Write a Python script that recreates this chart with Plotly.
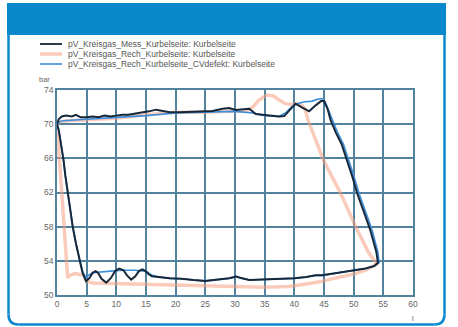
import plotly.graph_objects as go

# ---------------- data ----------------
mess_x = [0, 0.3, 0.8, 1.5, 2.5, 3.2, 4, 5, 6, 7, 8, 9, 10, 11, 12, 13, 14, 15, 15.5, 16.7, 18, 19, 20.6,
          22, 23.9, 26.2, 27.9, 29.0, 30.1, 31, 32.4, 33.5, 35.2, 37.4, 38.3, 39.1, 40.2, 41.2, 42.5, 43.6,
          44.5, 45, 45.6, 46.1, 47, 48, 48.9, 49.8, 50.6, 51.5, 52.2, 52.8, 53.4, 53.8, 54.1,
          53.5, 52, 50, 48, 46, 44.7, 43.6, 42, 40, 38, 36, 34, 32.4, 31, 30.2, 29, 27, 25, 23, 21, 19,
          17.2, 16, 15.5, 14.9, 14.4, 13.8, 13.2, 12.5, 11.8, 11.2, 10.5, 9.8, 9.1, 8.3, 7.5, 6.9, 6.5,
          6.0, 5.5, 4.9, 4.3, 3.8, 3.2, 2.65, 2.2, 1.8, 1.4, 1.1, 0.7, 0.3, 0]
mess_y = [70.0, 70.6, 70.9, 71.0, 70.9, 71.1, 70.8, 70.8, 70.9, 70.8, 71.0, 70.9, 71.0, 71.1, 71.1, 71.2,
          71.3, 71.4, 71.5, 71.7, 71.5, 71.4, 71.4, 71.45, 71.46, 71.55, 71.8, 71.9, 71.65, 71.7, 71.8,
          71.2, 71.05, 70.9, 70.95, 71.6, 72.4, 72.0, 71.5, 72.2, 72.7, 72.7, 71.8, 70.5, 69.0, 67.6,
          65.8, 63.8, 61.9, 60.0, 58.8, 57.6, 56.2, 55.1, 53.8,
          53.4, 53.1, 52.9, 52.7, 52.5, 52.3, 52.3, 52.1, 51.95, 51.9, 51.9, 51.85, 51.75, 52.0, 52.15,
          51.95, 51.8, 51.65, 51.75, 51.9, 51.95, 52.1, 52.2, 52.4, 52.8, 53.0, 52.8, 52.2, 51.8, 52.3,
          52.9, 53.1, 52.8, 52.0, 51.45, 51.9, 52.6, 52.8, 52.6, 52.0, 51.6, 52.6, 54.1, 56.0, 58.0,
          60.0, 61.9, 64.0, 65.8, 67.8, 69.3, 70.0]

rech_x = [0, 0.5, 2, 5, 10, 15, 20, 25, 30, 32, 33, 34, 35.3, 36.5, 37.5, 38.5, 39.5, 40.5, 41.3, 41.8,
          42.3, 44.9, 47.8, 48.3, 50.6, 52.5, 53.9,
          52, 50.3, 47, 44.7, 42, 39, 35, 30, 25, 20, 15, 10, 6, 5, 4.5, 3, 2.1, 1.8,
          1.6, 1.2, 0.8, 0.45, 0.15, 0]
rech_y = [70.0, 70.3, 70.4, 70.5, 70.7, 71.1, 71.4, 71.4, 71.5, 71.6, 72.0, 72.8, 73.4, 73.3, 72.8, 72.4,
          72.3, 72.4, 72.2, 71.8, 70.5, 65.8, 61.9, 61.1, 57.6, 55.0, 53.6,
          52.9, 52.5, 52.0, 51.6, 51.3, 51.0, 50.9, 51.0, 51.1, 51.2, 51.2, 51.3, 51.4, 51.6, 52.3, 52.5,
          52.3, 52.0, 54.0, 58.0, 62.0, 66.0, 69.0, 70.0]

cv_x = [0, 0.5, 1, 3, 5, 10, 15, 20, 25, 30, 33, 35, 37.4, 38.5, 39.5, 40.5, 41.5, 43, 43.8, 44.6, 45.2,
        45.8, 46.4, 47.3, 48.3, 49.2, 50.1, 50.9, 51.8, 52.5, 53.1, 53.7, 54.05, 54.3,
        53.5, 52, 50, 48, 46, 44.7, 43.6, 42, 40, 38, 36, 34, 32.4, 31, 30.2, 29, 27, 25, 23, 21, 19,
        17.2, 16, 15, 13, 11, 9, 7, 6, 5.3, 4.9, 4.3, 3.8, 3.2, 2.65, 2.2, 1.8, 1.4, 1.1, 0.7, 0.3, 0]
cv_y = [70.0, 70.3, 70.4, 70.5, 70.6, 70.8, 71.0, 71.3, 71.4, 71.5, 71.3, 71.0, 70.9, 71.3, 72.0, 72.4,
        72.6, 72.7, 72.9, 73.0, 72.6, 71.6, 70.4, 69.0, 67.6, 65.8, 63.8, 61.9, 60.0, 58.8, 57.6, 56.2,
        55.1, 53.8,
        53.4, 53.1, 52.9, 52.7, 52.5, 52.3, 52.3, 52.1, 51.95, 51.9, 51.9, 51.85, 51.75, 52.0, 52.15,
        51.95, 51.8, 51.65, 51.75, 51.9, 51.95, 52.1, 52.3, 52.8, 52.9, 52.9, 52.8, 52.7, 52.6, 52.3,
        52.0, 52.8, 54.1, 56.0, 58.0, 60.0, 61.9, 64.0, 65.8, 67.8, 69.3, 70.0]

legend_names = ["pV_Kreisgas_Mess_Kurbelseite: Kurbelseite",
                "pV_Kreisgas_Rech_Kurbelseite: Kurbelseite",
                "pV_Kreisgas_Rech_Kurbelseite_CVdefekt: Kurbelseite"]
x_ticks = [0, 5, 10, 15, 20, 25, 30, 35, 40, 45, 50, 55, 60]
y_ticks = [50, 54, 58, 62, 66, 70, 74]

# ---------------- styling ----------------
W, H = 458, 327
ML, MR, MT, MB = 57, 45, 90, 32
PW, PH = W - ML - MR, H - MT - MB
BLUE = "#0a88cc"
GRID = "#52829e"
C_MESS = "#16283a"
C_RECH = "rgba(245,160,130,0.55)"
C_CV = "#3d8fdc"


def px(xp):
    return (xp - ML) / PW


def py(yp):
    return (H - MB - yp) / PH


fig = go.Figure()
fig.add_trace(go.Scatter(x=rech_x, y=rech_y, mode="lines", name=legend_names[1],
                         line=dict(color=C_RECH, width=3.5), showlegend=False))
fig.add_trace(go.Scatter(x=cv_x, y=cv_y, mode="lines", name=legend_names[2],
                         line=dict(color=C_CV, width=1.6), showlegend=False))
fig.add_trace(go.Scatter(x=mess_x, y=mess_y, mode="lines", name=legend_names[0],
                         line=dict(color=C_MESS, width=2), showlegend=False))

shapes = []
# header band
shapes.append(dict(type="rect", xref="paper", yref="paper", x0=px(7), x1=px(446), y0=py(35), y1=py(3),
                   fillcolor=BLUE, line=dict(width=0), layer="below"))
# side/bottom border with rounded corners
L, R, B, T, r = 8.5, 444.5, 324.5, 34, 10
bline = dict(color=BLUE, width=2.5)
shapes.append(dict(type="line", xref="paper", yref="paper", x0=px(L), x1=px(L), y0=py(T), y1=py(B - r),
                   line=bline))
shapes.append(dict(type="line", xref="paper", yref="paper", x0=px(R), x1=px(R), y0=py(T), y1=py(B - r),
                   line=bline))
shapes.append(dict(type="line", xref="paper", yref="paper", x0=px(L + r), x1=px(R - r), y0=py(B), y1=py(B),
                   line=bline))
shapes.append(dict(type="path", xref="paper", yref="paper",
                   path=f"M {px(L):.5f},{py(B - r):.5f} Q {px(L):.5f},{py(B):.5f} {px(L + r):.5f},{py(B):.5f}",
                   line=bline))
shapes.append(dict(type="path", xref="paper", yref="paper",
                   path=f"M {px(R - r):.5f},{py(B):.5f} Q {px(R):.5f},{py(B):.5f} {px(R):.5f},{py(B - r):.5f}",
                   line=bline))
# legend samples
leg_rows = [44, 54, 64]
leg_styles = [(C_MESS, 1.8), (C_RECH, 3.5), (C_CV, 1.6)]
annotations = []
for name, yrow, (col, wd) in zip(legend_names, leg_rows, leg_styles):
    shapes.append(dict(type="line", xref="paper", yref="paper", x0=px(40), x1=px(62),
                       y0=py(yrow), y1=py(yrow), line=dict(color=col, width=wd)))
    annotations.append(dict(xref="paper", yref="paper", x=px(66), y=py(yrow), text=name,
                            showarrow=False, xanchor="left", yanchor="middle",
                            font=dict(family="Liberation Sans, Arial", size=8.5, color="#555")))
annotations.append(dict(xref="paper", yref="paper", x=px(44), y=py(80), text="bar", showarrow=False,
                        xanchor="center", yanchor="middle",
                        font=dict(family="Liberation Sans, Arial", size=7.5, color="#666")))
annotations.append(dict(xref="paper", yref="paper", x=px(413), y=py(318), text="l", showarrow=False,
                        xanchor="center", yanchor="middle",
                        font=dict(family="Liberation Sans, Arial", size=7, color="#555")))

fig.update_layout(
    width=W, height=H,
    margin=dict(l=ML, r=MR, t=MT, b=MB, pad=0),
    paper_bgcolor="white", plot_bgcolor="white",
    shapes=shapes, annotations=annotations, showlegend=False,
    font=dict(family="Liberation Sans, Arial", size=9, color="#666"),
)
axis_common = dict(showgrid=True, gridcolor=GRID, gridwidth=1.6, zeroline=False,
                   showline=True, linecolor=GRID, linewidth=1.6, mirror=True, ticks="",
                   tickfont=dict(family="Liberation Sans, Arial", size=8.5, color="#666"))
fig.update_xaxes(range=[0, 60], tickvals=x_ticks, ticktext=[str(v) for v in x_ticks], **axis_common)
fig.update_yaxes(range=[50, 74], tickvals=y_ticks, ticktext=[str(v) for v in y_ticks], **axis_common)

fig.write_html("out.html", config={"displayModeBar": False},
               post_script="document.body.style.margin='0';document.body.style.overflow='hidden';")
